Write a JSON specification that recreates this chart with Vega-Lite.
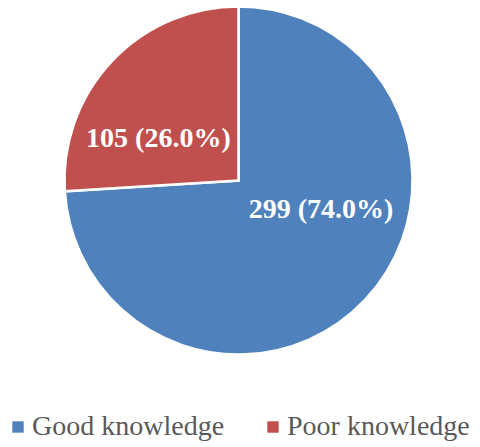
{
  "$schema": "https://vega.github.io/schema/vega-lite/v6.json",
  "autosize": "none",
  "padding": {"left": 0, "top": 0, "right": 3, "bottom": 86},
  "width": 477,
  "height": 361,
  "background": "#ffffff",
  "view": {"stroke": null},
  "data": {
    "values": [
      {"category": "Good knowledge", "count": 299, "label": "299 (74.0%)"},
      {"category": "Poor knowledge", "count": 105, "label": "105 (26.0%)"}
    ]
  },
  "encoding": {
    "theta": {"field": "count", "type": "quantitative", "stack": true},
    "order": {"field": "category", "sort": "ascending"}
  },
  "layer": [
    {
      "mark": {"type": "arc", "radius": 174, "stroke": "#ffffff", "strokeWidth": 2.5},
      "encoding": {
        "color": {
          "field": "category",
          "type": "nominal",
          "scale": {"domain": ["Good knowledge", "Poor knowledge"], "range": ["#4f81bd", "#c0504d"]},
          "legend": {
            "title": null,
            "orient": "none",
            "direction": "horizontal",
            "legendX": 4,
            "legendY": 413,
            "symbolType": "square",
            "symbolSize": 130,
            "symbolStrokeWidth": 0,
            "labelFont": "Liberation Serif",
            "labelFontSize": 28,
            "labelColor": "#595959",
            "labelOffset": 0,
            "columnPadding": 34,
            "labelLimit": 300
          }
        }
      }
    },
    {
      "mark": {"type": "text", "radius": 90, "dx": 17, "dy": -24, "align": "center", "baseline": "alphabetic", "font": "Liberation Serif", "fontSize": 28, "fontWeight": "bold", "fill": "#ffffff"},
      "encoding": {
        "detail": {"field": "category"},
        "text": {"condition": {"test": "datum.category === 'Good knowledge'", "field": "label"}, "value": ""}
      }
    },
    {
      "mark": {"type": "text", "radius": 90, "dx": -14.5, "dy": 28, "align": "center", "baseline": "alphabetic", "font": "Liberation Serif", "fontSize": 28, "fontWeight": "bold", "fill": "#ffffff"},
      "encoding": {
        "detail": {"field": "category"},
        "text": {"condition": {"test": "datum.category === 'Poor knowledge'", "field": "label"}, "value": ""}
      }
    }
  ]
}
